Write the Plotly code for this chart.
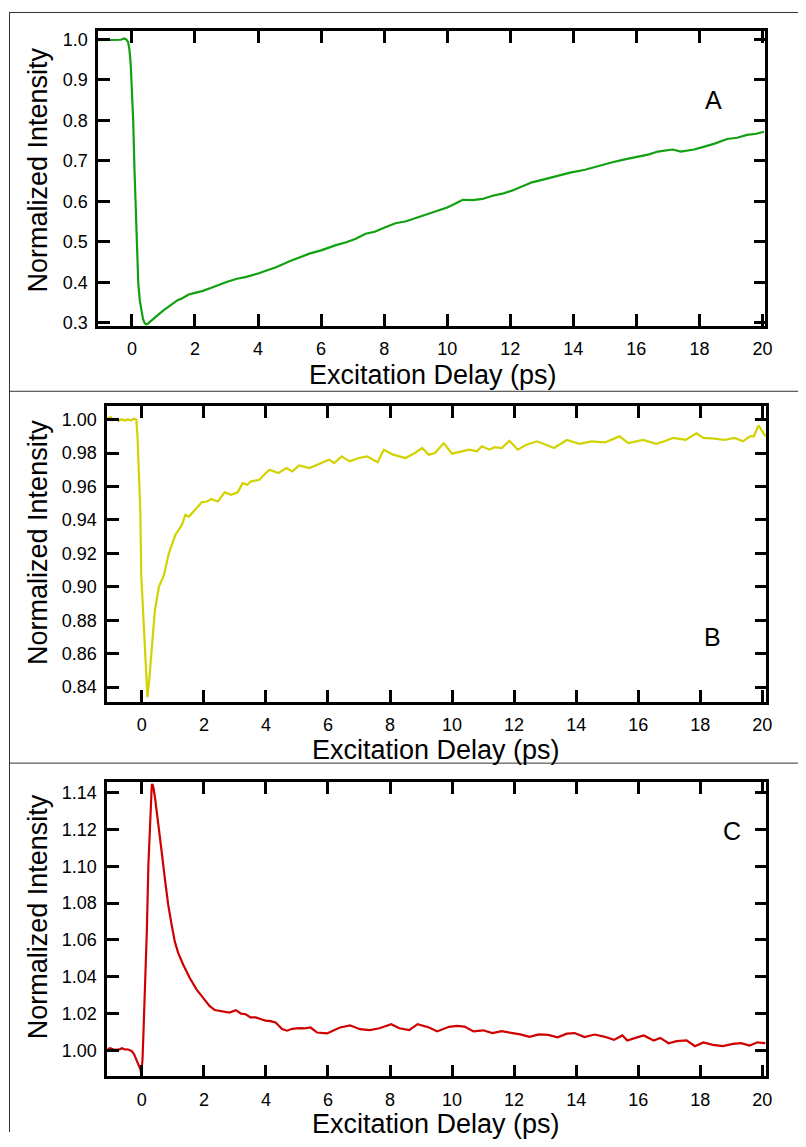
import plotly.graph_objects as go

# ---------------- data ----------------
a_x = [-1.07, -0.9, -0.7, -0.5, -0.35, -0.25, -0.18, -0.12, -0.08, -0.04, 0.0, 0.04, 0.08, 0.12,
       0.16, 0.2, 0.25, 0.3, 0.35, 0.4, 0.45, 0.5, 0.6, 0.8, 1.0, 1.2, 1.45, 1.6, 1.8, 2.0, 2.25,
       2.5, 2.86, 3.0, 3.33, 3.6, 4.0, 4.3, 4.59, 5.0, 5.3, 5.63, 6.0, 6.47, 6.8, 7.1, 7.41, 7.7,
       8.0, 8.36, 8.7, 8.98, 9.34, 9.62, 10.0, 10.25, 10.49, 10.8, 11.12, 11.44, 11.75, 12.07,
       12.4, 12.69, 13.1, 13.53, 13.9, 14.37, 14.8, 15.21, 15.6, 16.05, 16.4, 16.68, 17.0, 17.15,
       17.41, 17.83, 18.1, 18.46, 18.88, 19.2, 19.51, 19.8, 20.05]
a_y = [0.998, 0.998, 0.999, 0.998, 0.999, 1.002, 1.0, 0.993, 0.975, 0.94, 0.88, 0.80, 0.68, 0.57,
       0.47, 0.40, 0.355, 0.33, 0.31, 0.30, 0.296, 0.298, 0.304, 0.318, 0.331, 0.343, 0.356, 0.361,
       0.370, 0.374, 0.379, 0.386, 0.398, 0.401, 0.409, 0.413, 0.422, 0.430, 0.438, 0.452, 0.461,
       0.471, 0.479, 0.492, 0.499, 0.508, 0.520, 0.525, 0.535, 0.546, 0.551, 0.558, 0.567, 0.575,
       0.585, 0.594, 0.604, 0.603, 0.606, 0.614, 0.619, 0.627, 0.637, 0.647, 0.655, 0.664, 0.671,
       0.678, 0.688, 0.696, 0.703, 0.710, 0.716, 0.723, 0.726, 0.728, 0.723, 0.728, 0.734, 0.742,
       0.754, 0.757, 0.764, 0.767, 0.772]

b_x = [-1.1, -1.0, -0.95, -0.85, -0.75, -0.65, -0.55, -0.45, -0.35, -0.25, -0.18, -0.14, -0.11,
       -0.085, -0.05, -0.02, 0.04, 0.085, 0.13, 0.18, 0.25, 0.34, 0.42, 0.55, 0.71, 0.87, 1.08,
       1.29, 1.40, 1.52, 1.66, 1.8, 1.93, 2.1, 2.24, 2.45, 2.67, 2.88, 3.09, 3.25, 3.4, 3.51,
       3.78, 4.11, 4.4, 4.66, 4.85, 5.07, 5.4, 5.75, 6.03, 6.2, 6.44, 6.7, 7.0, 7.26, 7.45, 7.6,
       7.8, 8.1, 8.5, 8.8, 9.04, 9.25, 9.45, 9.73, 10.0, 10.3, 10.55, 10.8, 10.96, 11.2, 11.37,
       11.6, 11.85, 12.12, 12.4, 12.74, 13.0, 13.29, 13.7, 14.1, 14.5, 14.93, 15.15, 15.4, 15.68,
       16.16, 16.58, 16.85, 17.12, 17.53, 17.88, 18.1, 18.36, 18.77, 19.1, 19.38, 19.6, 19.73,
       19.88, 20.0, 20.1]
b_y = [1.0008, 1.0015, 0.9995, 1.0004, 0.9992, 1.0002, 0.9994, 1.0001, 0.9996, 1.0005, 1.0000,
       0.990, 0.975, 0.964, 0.945, 0.907, 0.886, 0.866, 0.847, 0.834, 0.847, 0.870, 0.886, 0.900,
       0.907, 0.920, 0.931, 0.937, 0.943, 0.942, 0.945, 0.948, 0.9506, 0.951, 0.9525, 0.951,
       0.9565, 0.955, 0.9565, 0.962, 0.961, 0.963, 0.964, 0.970, 0.968, 0.971, 0.969, 0.9725,
       0.971, 0.9737, 0.976, 0.974, 0.978, 0.975, 0.977, 0.978, 0.976, 0.9745, 0.982, 0.979,
       0.977, 0.980, 0.983, 0.979, 0.980, 0.9859, 0.9796, 0.981, 0.982, 0.981, 0.984, 0.982,
       0.9835, 0.983, 0.9873, 0.982, 0.985, 0.987, 0.985, 0.983, 0.9878, 0.9855, 0.987, 0.9863,
       0.988, 0.990, 0.9859, 0.9878, 0.9855, 0.987, 0.989, 0.9878, 0.9918, 0.989, 0.9888, 0.9878,
       0.989, 0.987, 0.990, 0.990, 0.9965, 0.993, 0.990]

c_x = [-1.1, -1.02, -0.9, -0.8, -0.7, -0.64, -0.55, -0.48, -0.4, -0.32, -0.25, -0.21, -0.15,
       -0.11, -0.05, -0.02, 0.02, 0.05, 0.11, 0.16, 0.21, 0.27, 0.32, 0.34, 0.38, 0.43, 0.53,
       0.64, 0.74, 0.85, 0.96, 1.06, 1.17, 1.33, 1.54, 1.76, 1.97, 2.18, 2.35, 2.5, 2.7, 2.82,
       3.03, 3.2, 3.35, 3.5, 3.67, 3.85, 3.99, 4.15, 4.31, 4.52, 4.68, 4.85, 5.05, 5.25, 5.44,
       5.65, 5.97, 6.12, 6.39, 6.71, 7.03, 7.35, 7.66, 8.04, 8.3, 8.62, 8.89, 9.26, 9.52, 9.9,
       10.16, 10.4, 10.69, 11.0, 11.3, 11.6, 11.9, 12.2, 12.5, 12.8, 13.1, 13.4, 13.7, 13.95,
       14.27, 14.59, 14.9, 15.22, 15.49, 15.65, 15.91, 16.18, 16.5, 16.71, 16.98, 17.24, 17.56,
       17.83, 18.1, 18.41, 18.73, 19.05, 19.32, 19.59, 19.85, 20.1]
c_y = [1.0008, 1.0013, 1.0005, 1.0004, 1.0008, 1.0013, 1.0006, 1.0007, 1.0003, 0.9996, 0.998,
       0.9964, 0.9945, 0.9928, 0.990, 0.9874, 0.995, 1.009, 1.0377, 1.0646, 1.1005, 1.1275, 1.144,
       1.1445, 1.142, 1.1364, 1.1239, 1.1077, 1.0934, 1.079, 1.0682, 1.0592, 1.053, 1.0467,
       1.0395, 1.0332, 1.0287, 1.0242, 1.022, 1.0215, 1.021, 1.0206, 1.0219, 1.020, 1.0197,
       1.018, 1.018, 1.017, 1.0162, 1.016, 1.0153, 1.0117, 1.0108, 1.0118, 1.0122, 1.012,
       1.0125, 1.0098, 1.0093, 1.0105, 1.0125, 1.0137, 1.0116, 1.0111, 1.0121, 1.0143, 1.0121,
       1.0111, 1.0143, 1.0125, 1.0104, 1.0129, 1.0134, 1.013, 1.0104, 1.011, 1.0095, 1.0105,
       1.0098, 1.0088, 1.0075, 1.0088, 1.0085, 1.0072, 1.0092, 1.0095, 1.0073, 1.0087, 1.0076,
       1.0058, 1.0082, 1.0055, 1.0069, 1.0082, 1.0055, 1.0069, 1.004, 1.0051, 1.0055, 1.0024,
       1.0044, 1.0031, 1.0024, 1.0036, 1.004, 1.0027, 1.0045, 1.004]

x_ticks = [0, 2, 4, 6, 8, 10, 12, 14, 16, 18, 20]
a_yticks = [0.3, 0.4, 0.5, 0.6, 0.7, 0.8, 0.9, 1.0]
b_yticks = [0.84, 0.86, 0.88, 0.90, 0.92, 0.94, 0.96, 0.98, 1.00]
c_yticks = [1.00, 1.02, 1.04, 1.06, 1.08, 1.10, 1.12, 1.14]
x_title = "Excitation Delay (ps)"
y_title = "Normalized Intensity"
panel_labels = ["A", "B", "C"]

# ---------------- layout helpers ----------------
# The page body keeps its default 8px margin, so the figure starts at (8, 8)
# on the page; it reaches the right window edge and stays inside the height.
OFF = 8
W, H = 806 - OFF, 1147 - 2 * OFF
FONT = "Arial, Liberation Sans, sans-serif"


def px(x):
    """page pixel x -> paper fraction"""
    return (x - OFF) / W


def py(y):
    """page pixel y -> paper fraction"""
    return 1 - (y - OFF) / H


fig = go.Figure()
fig.add_trace(go.Scatter(x=a_x, y=a_y, mode="lines", line=dict(color="#10a010", width=2.2),
                         xaxis="x", yaxis="y", showlegend=False))
fig.add_trace(go.Scatter(x=b_x, y=b_y, mode="lines", line=dict(color="#d2d200", width=2.2),
                         xaxis="x2", yaxis="y2", showlegend=False))
fig.add_trace(go.Scatter(x=c_x, y=c_y, mode="lines", line=dict(color="#d00000", width=2.2),
                         xaxis="x3", yaxis="y3", showlegend=False))

common = dict(showline=True, linecolor="black", linewidth=2.5, mirror="allticks",
              ticks="inside", ticklen=12, tickwidth=2.5, tickcolor="black",
              showgrid=False, zeroline=False,
              tickfont=dict(family=FONT, size=18, color="black"))

panels = [
    # (x domain px, y domain px (top,bottom), xrange, yrange, yticks, fmt)
    ((99, 772), (30, 327), [-1.07, 20.09], [0.293, 1.021], a_yticks, ".1f"),
    ((108, 773), (408, 706), [-1.12, 20.13], [0.8311, 1.008], b_yticks, ".2f"),
    ((108, 773), (787, 1083), [-1.12, 20.13], [0.986, 1.1454], c_yticks, ".2f"),
]

layout = dict(width=W, height=H, margin=dict(l=0, r=0, t=0, b=0),
              paper_bgcolor="white", plot_bgcolor="white", showlegend=False)
for i, (xd, yd, xr, yr, yt, fmt) in enumerate(panels):
    s = "" if i == 0 else str(i + 1)
    layout["xaxis" + s] = dict(common, domain=[px(xd[0]), px(xd[1])], range=xr,
                               tickvals=x_ticks, anchor="y" + s, ticklabelstandoff=5)
    layout["yaxis" + s] = dict(common, domain=[py(yd[1]), py(yd[0])], range=yr,
                               tickvals=yt, tickformat=fmt, anchor="x" + s,
                               ticklabelstandoff=4)
fig.update_layout(**layout)

# frame lines
frame = dict(color="#333333", width=1)
shapes = [
    dict(type="line", xref="paper", yref="paper", x0=px(9.5), x1=px(9.5), y0=py(11), y1=0, line=frame),
    dict(type="line", xref="paper", yref="paper", x0=px(9), x1=1, y0=py(11.5), y1=py(11.5), line=frame),
    dict(type="line", xref="paper", yref="paper", x0=px(9), x1=1, y0=py(393), y1=py(393), line=frame),
    dict(type="line", xref="paper", yref="paper", x0=px(9), x1=1, y0=py(767.5), y1=py(767.5), line=frame),
]
fig.update_layout(shapes=shapes)

annotations = []
x_title_pos = [(437, 377), (440, 754), (440, 1131)]
y_title_pos = [(38, 170), (38, 545), (38, 922)]
label_pos = [(720, 100), (719, 640), (738, 836)]
for i in range(3):
    annotations.append(dict(text=x_title, x=px(x_title_pos[i][0]), y=py(x_title_pos[i][1]),
                            xref="paper", yref="paper", showarrow=False,
                            xanchor="center", yanchor="middle",
                            font=dict(family=FONT, size=27, color="black")))
    annotations.append(dict(text=y_title, x=px(y_title_pos[i][0]), y=py(y_title_pos[i][1]),
                            xref="paper", yref="paper", showarrow=False, textangle=-90,
                            xanchor="center", yanchor="middle",
                            font=dict(family=FONT, size=27, color="black")))
    annotations.append(dict(text=panel_labels[i], x=px(label_pos[i][0]), y=py(label_pos[i][1]),
                            xref="paper", yref="paper", showarrow=False,
                            xanchor="center", yanchor="middle",
                            font=dict(family=FONT, size=25, color="black")))
fig.update_layout(annotations=annotations)

fig.write_html("out.html", config={"displayModeBar": False})
